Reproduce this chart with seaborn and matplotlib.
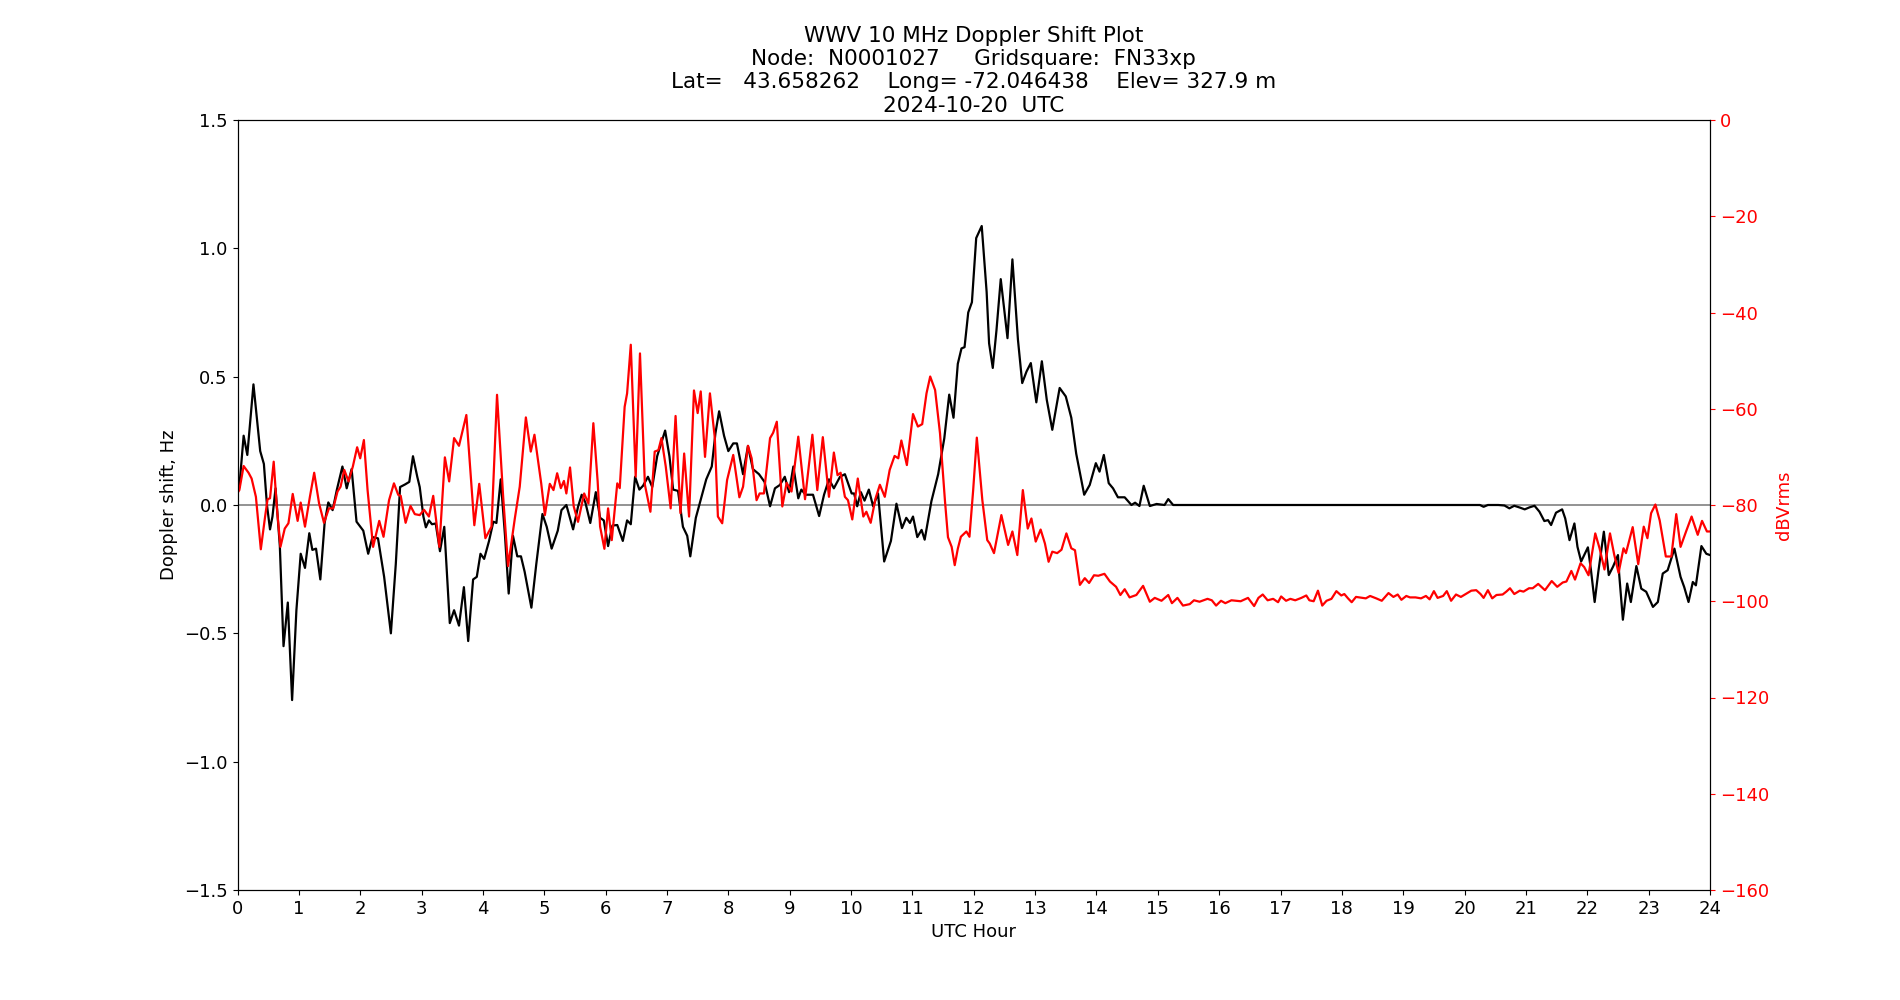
import matplotlib
matplotlib.use("Agg")
import matplotlib.pyplot as plt
import seaborn as sns
import pandas as pd

# Doppler shift (Hz) vs UTC hour
doppler_hours = [
    0.0, 0.03, 0.10, 0.16, 0.26, 0.37, 0.43, 0.48, 0.53, 0.57, 0.62, 0.69, 0.75, 0.82, 0.89, 0.96,
    1.03, 1.10, 1.17, 1.22, 1.28, 1.35, 1.42, 1.48, 1.55, 1.62, 1.71, 1.78, 1.86, 1.94,
    2.05, 2.13, 2.20, 2.29, 2.39, 2.50, 2.58, 2.65, 2.73, 2.80, 2.86, 2.93, 2.97,
    3.03, 3.07, 3.12, 3.17, 3.23, 3.30, 3.37, 3.46, 3.53, 3.61, 3.69, 3.76, 3.84, 3.90, 3.96,
    4.02, 4.10, 4.17, 4.22, 4.29, 4.36, 4.42, 4.49, 4.56, 4.62, 4.68, 4.79, 4.87, 4.97,
    5.04, 5.12, 5.22, 5.28, 5.36, 5.47, 5.55, 5.61, 5.67, 5.75, 5.84, 5.91, 5.97,
    6.04, 6.11, 6.19, 6.28, 6.35, 6.41, 6.48, 6.55, 6.61, 6.69, 6.76, 6.84, 6.97,
    7.04, 7.10, 7.18, 7.26, 7.33, 7.38, 7.47, 7.56, 7.64, 7.73, 7.79, 7.85, 7.93,
    8.00, 8.08, 8.14, 8.24, 8.32, 8.40, 8.50, 8.59, 8.68, 8.76, 8.84, 8.92, 8.99,
    9.06, 9.14, 9.19, 9.26, 9.38, 9.48, 9.56, 9.64, 9.72, 9.82, 9.90,
    10.01, 10.05, 10.10, 10.16, 10.22, 10.29, 10.36, 10.44, 10.54, 10.65, 10.74, 10.83, 10.90, 10.96,
    11.01, 11.08, 11.15, 11.20, 11.31, 11.42, 11.52, 11.60, 11.67, 11.74, 11.80, 11.85, 11.91, 11.97,
    12.04, 12.13, 12.21, 12.25, 12.31, 12.37, 12.44, 12.49, 12.55, 12.63, 12.72, 12.79, 12.86, 12.93,
    13.02, 13.11, 13.19, 13.28, 13.40, 13.50, 13.59, 13.67, 13.80, 13.89, 13.99,
    14.05, 14.12, 14.20, 14.27, 14.35, 14.46, 14.57, 14.63, 14.70, 14.77, 14.87, 14.98,
    15.11, 15.17, 15.25, 16.0, 17.0, 18.0, 19.0, 20.0, 20.25, 20.31, 20.38, 20.55, 20.65,
    20.73, 20.81, 20.90, 20.98, 21.06, 21.14, 21.22, 21.30, 21.36, 21.41, 21.49, 21.59, 21.64,
    21.71, 21.79, 21.84, 21.90, 22.01, 22.06, 22.12, 22.18, 22.27, 22.35, 22.42, 22.50, 22.52,
    22.58, 22.65, 22.71, 22.80, 22.88, 22.96, 23.07, 23.15, 23.23, 23.31, 23.42, 23.52, 23.58,
    23.65, 23.72, 23.77, 23.86, 23.94, 24.00,
]
doppler_hz = [
    0.05, 0.07, 0.27, 0.195, 0.47, 0.21, 0.16, 0.0, -0.095, -0.045, 0.065, -0.16, -0.55, -0.38, -0.76, -0.41,
    -0.19, -0.245, -0.11, -0.175, -0.17, -0.29, -0.07, 0.01, -0.02, 0.06, 0.15, 0.065, 0.14, -0.065,
    -0.10, -0.19, -0.125, -0.13, -0.28, -0.50, -0.23, 0.07, 0.08, 0.09, 0.19, 0.11, 0.07,
    -0.045, -0.087, -0.06, -0.075, -0.072, -0.18, -0.085, -0.46, -0.41, -0.47, -0.32, -0.53, -0.29, -0.28, -0.19,
    -0.21, -0.14, -0.065, -0.07, 0.10, -0.12, -0.345, -0.12, -0.20, -0.20, -0.26, -0.40, -0.23, -0.035,
    -0.085, -0.17, -0.10, -0.02, 0.0, -0.095, -0.007, 0.04, 0.01, -0.07, 0.05, -0.05, -0.06,
    -0.16, -0.08, -0.078, -0.14, -0.06, -0.075, 0.11, 0.06, 0.075, 0.11, 0.07, 0.19, 0.29,
    0.19, 0.06, 0.055, -0.085, -0.12, -0.20, -0.05, 0.03, 0.10, 0.15, 0.28, 0.365, 0.27,
    0.21, 0.24, 0.24, 0.12, 0.23, 0.14, 0.12, 0.09, -0.005, 0.065, 0.078, 0.11, 0.05,
    0.15, 0.026, 0.06, 0.04, 0.04, -0.043, 0.04, 0.10, 0.065, 0.11, 0.12,
    0.045, 0.045, -0.005, 0.05, 0.017, 0.06, -0.005, 0.045, -0.22, -0.14, 0.005, -0.09, -0.05, -0.07,
    -0.045, -0.125, -0.097, -0.135, 0.015, 0.12, 0.26, 0.43, 0.34, 0.55, 0.61, 0.615, 0.75, 0.79,
    1.04, 1.087, 0.83, 0.63, 0.534, 0.68, 0.88, 0.775, 0.65, 0.957, 0.645, 0.475, 0.52, 0.553,
    0.40, 0.56, 0.41, 0.293, 0.456, 0.423, 0.34, 0.20, 0.04, 0.078, 0.163,
    0.13, 0.195, 0.085, 0.065, 0.03, 0.03, 0.0, 0.009, -0.004, 0.075, -0.004, 0.004,
    0.0, 0.023, 0.0, 0.0, 0.0, 0.0, 0.0, 0.0, 0.0, -0.007, 0.0, 0.0, -0.002,
    -0.013, -0.003, -0.01, -0.017, -0.009, -0.003, -0.026, -0.0625, -0.059, -0.078, -0.03, -0.017, -0.052,
    -0.137, -0.072, -0.163, -0.22, -0.165, -0.254, -0.378, -0.26, -0.104, -0.273, -0.24, -0.195, -0.27,
    -0.447, -0.306, -0.378, -0.238, -0.326, -0.338, -0.397, -0.378, -0.267, -0.254, -0.17, -0.28, -0.32,
    -0.378, -0.30, -0.313, -0.16, -0.19, -0.195,
]

# Received signal level (dBVrms) vs UTC hour
level_hours = [
    0.0, 0.03, 0.10, 0.18, 0.23, 0.30, 0.38, 0.45, 0.49, 0.53, 0.59, 0.64, 0.70, 0.77, 0.83, 0.90, 0.98,
    1.03, 1.10, 1.18, 1.25, 1.33, 1.41, 1.49, 1.56, 1.63, 1.68, 1.74, 1.81, 1.88, 1.95,
    2.00, 2.06, 2.12, 2.21, 2.31, 2.38, 2.47, 2.55, 2.62, 2.66, 2.74, 2.82, 2.89, 2.97,
    3.04, 3.12, 3.19, 3.29, 3.38, 3.45, 3.53, 3.61, 3.73, 3.86, 3.94,
    4.04, 4.14, 4.23, 4.33, 4.41, 4.52, 4.60, 4.70, 4.78, 4.84, 4.95,
    5.01, 5.09, 5.15, 5.21, 5.27, 5.32, 5.36, 5.42, 5.48, 5.55, 5.61, 5.65, 5.72, 5.80, 5.87, 5.91, 5.98,
    6.04, 6.10, 6.19, 6.23, 6.31, 6.35, 6.41, 6.49, 6.56, 6.64, 6.73, 6.80, 6.86, 6.91, 6.98,
    7.06, 7.14, 7.22, 7.28, 7.36, 7.44, 7.50, 7.55, 7.62, 7.70, 7.78, 7.83, 7.90, 7.98,
    8.08, 8.18, 8.24, 8.32, 8.38, 8.46, 8.51, 8.58, 8.68, 8.73, 8.79, 8.88, 8.95,
    9.03, 9.14, 9.25, 9.37, 9.45, 9.54, 9.64, 9.72, 9.78, 9.83, 9.90, 9.95,
    10.02, 10.11, 10.20, 10.25, 10.32, 10.40, 10.47, 10.55, 10.63, 10.71, 10.77, 10.82, 10.91,
    11.01, 11.09, 11.16, 11.23, 11.29, 11.37, 11.45, 11.53, 11.58, 11.64, 11.69, 11.74, 11.79, 11.88, 11.93, 11.99,
    12.05, 12.14, 12.22, 12.26, 12.33, 12.45, 12.56, 12.63, 12.71, 12.80, 12.88, 12.94,
    13.01, 13.09, 13.16, 13.22, 13.28, 13.36, 13.43, 13.51, 13.59, 13.65, 13.73, 13.81, 13.88, 13.96,
    14.03, 14.13, 14.22, 14.32, 14.39, 14.46, 14.54, 14.65, 14.76, 14.87, 14.95,
    15.06, 15.17, 15.23, 15.32, 15.41, 15.52, 15.59, 15.68, 15.81, 15.88, 15.95,
    16.03, 16.10, 16.20, 16.35, 16.47, 16.57, 16.64, 16.71, 16.79, 16.88, 16.96,
    17.01, 17.09, 17.16, 17.24, 17.34, 17.42, 17.47, 17.54, 17.61, 17.68, 17.75, 17.83, 17.91, 17.99,
    18.04, 18.10, 18.16, 18.23, 18.33, 18.39, 18.46, 18.56, 18.65, 18.76, 18.84, 18.91, 18.97,
    19.05, 19.11, 19.20, 19.29, 19.37, 19.43, 19.50, 19.56, 19.65, 19.71, 19.78, 19.86, 19.94,
    20.03, 20.11, 20.19, 20.26, 20.31, 20.38, 20.45, 20.52, 20.62, 20.68, 20.74, 20.81, 20.90, 20.96,
    21.05, 21.11, 21.20, 21.31, 21.42, 21.51, 21.60, 21.66, 21.74, 21.80, 21.89, 21.95,
    22.02, 22.13, 22.20, 22.28, 22.37, 22.44, 22.51, 22.59, 22.63, 22.74, 22.83, 22.92, 22.98,
    23.04, 23.11, 23.18, 23.28, 23.37, 23.45, 23.52, 23.61, 23.70, 23.80, 23.87, 23.95, 24.00,
]
level_dbv = [
    -77.5, -76.9, -71.9, -73.3, -74.5, -78.3, -89.2, -82.4, -78.8, -78.6, -71.0, -80.3, -88.7, -84.9, -83.8, -77.7, -83.3,
    -79.5, -84.5, -78.3, -73.3, -79.7, -83.7, -80.7, -80.7, -77.2, -76.2, -72.7, -75.1, -72.0, -68.0,
    -70.3, -66.5, -76.9, -88.7, -83.3, -86.6, -79.0, -75.5, -77.9, -78.1, -83.7, -80.2, -81.9, -82.1,
    -81.0, -82.4, -78.1, -88.7, -70.1, -75.1, -66.1, -67.7, -61.3, -84.2, -75.6,
    -86.9, -84.5, -57.1, -78.3, -92.7, -82.8, -76.2, -61.8, -68.9, -65.4, -75.5,
    -82.1, -75.6, -76.9, -73.4, -76.5, -75.0, -77.6, -72.2, -80.3, -83.5, -80.0, -77.6, -79.7, -63.0, -75.1, -84.5, -89.1,
    -80.7, -87.3, -75.5, -76.5, -59.6, -56.8, -46.7, -74.1, -48.5, -75.8, -81.4, -68.9, -68.6, -66.1, -72.0,
    -80.7, -61.5, -81.7, -69.3, -82.4, -56.2, -60.9, -56.4, -70.0, -56.8, -66.1, -82.4, -83.8, -74.8,
    -69.6, -78.4, -76.2, -67.7, -70.3, -79.0, -77.6, -77.6, -66.1, -65.0, -62.7, -80.3, -75.4,
    -77.2, -65.8, -78.8, -65.4, -76.9, -65.9, -78.3, -69.1, -73.8, -73.3, -78.3, -79.0,
    -83.0, -74.5, -82.4, -81.4, -83.7, -78.6, -75.8, -78.3, -72.7, -69.8, -70.3, -66.6, -71.7,
    -61.1, -63.7, -63.2, -56.8, -53.3, -56.1, -65.1, -79.0, -86.7, -88.7, -92.5, -89.1, -86.6, -85.5, -86.6, -77.0,
    -66.0, -79.0, -87.3, -88.0, -90.0, -82.1, -88.3, -85.5, -90.4, -76.9, -84.9, -82.8,
    -87.6, -85.1, -88.0, -91.8, -89.7, -90.0, -89.3, -85.9, -89.0, -89.4, -96.6, -95.2, -96.2, -94.6,
    -94.7, -94.3, -95.9, -97.0, -98.7, -97.5, -99.2, -98.7, -96.8, -100.1, -99.3,
    -99.9, -98.7, -100.4, -99.3, -100.9, -100.6, -99.8, -100.1, -99.5, -99.8, -100.9,
    -99.9, -100.4, -99.8, -100.0, -99.3, -101.0, -99.3, -98.6, -99.8, -99.5, -100.2,
    -99.0, -99.9, -99.5, -99.8, -99.3, -98.8, -99.8, -100.0, -97.8, -100.9, -99.9, -99.5, -97.9, -98.8,
    -98.5, -99.4, -100.2, -99.1, -99.3, -99.4, -98.9, -99.4, -99.9, -98.3, -99.1, -98.6, -99.7,
    -98.9, -99.2, -99.2, -99.4, -98.9, -99.6, -97.9, -99.3, -98.9, -97.9, -99.9, -98.6, -99.1,
    -98.4, -97.8, -97.7, -98.5, -99.3, -97.7, -99.4, -98.7, -98.6, -98.0, -97.3, -98.5, -97.8, -98.0,
    -97.3, -97.3, -96.4, -97.7, -95.8, -97.0, -96.1, -95.9, -93.7, -95.5, -92.1, -92.9,
    -94.6, -85.9, -89.0, -93.4, -85.9, -90.4, -94.1, -89.0, -90.0, -84.6, -92.3, -84.5, -86.9,
    -81.7, -79.9, -83.2, -90.7, -90.7, -81.9, -88.7, -85.5, -82.4, -86.2, -83.3, -85.5, -85.5,
]

hour_ticks = list(range(0, 25))
doppler_ticks = [-1.5, -1.0, -0.5, 0.0, 0.5, 1.0, 1.5]
level_ticks = [0, -20, -40, -60, -80, -100, -120, -140, -160]

title_text = ("WWV 10 MHz Doppler Shift Plot\n"
              "Node:  N0001027     Gridsquare:  FN33xp\n"
              "Lat=   43.658262    Long= -72.046438    Elev= 327.9 m\n"
              "2024-10-20  UTC")

doppler_df = pd.DataFrame({"hour": doppler_hours, "doppler": doppler_hz})
level_df = pd.DataFrame({"hour": level_hours, "level": level_dbv})

plt.rcParams["font.family"] = ["DejaVu Sans"]
fig, ax = plt.subplots(figsize=(19, 10), dpi=100)
fig.subplots_adjust(left=0.125, right=0.9, top=0.88, bottom=0.11)

ax.axhline(0, color="gray", lw=1.2, zorder=1)
sns.lineplot(data=doppler_df, x="hour", y="doppler", ax=ax, color="black",
             lw=1.6, sort=False, estimator=None, zorder=2)
ax.set_xlim(0, 24)
ax.set_ylim(-1.5, 1.5)
ax.set_xticks(hour_ticks)
ax.set_yticks(doppler_ticks)
ax.set_xlabel("UTC Hour", fontsize=13)
ax.set_ylabel("Doppler shift, Hz", fontsize=13)
ax.tick_params(axis="both", labelsize=13)
ax.set_title(title_text, fontsize=15.5)

ax2 = ax.twinx()
sns.lineplot(data=level_df, x="hour", y="level", ax=ax2, color="red",
             lw=1.6, sort=False, estimator=None)
ax2.set_ylim(-160, 0)
ax2.set_yticks(level_ticks)
ax2.set_ylabel("dBVrms", color="red", fontsize=13)
ax2.tick_params(axis="y", colors="red", labelsize=13)
ax2.spines["right"].set_color("black")
ax2.set_xlim(0, 24)

fig.savefig("out.png", dpi=100)
